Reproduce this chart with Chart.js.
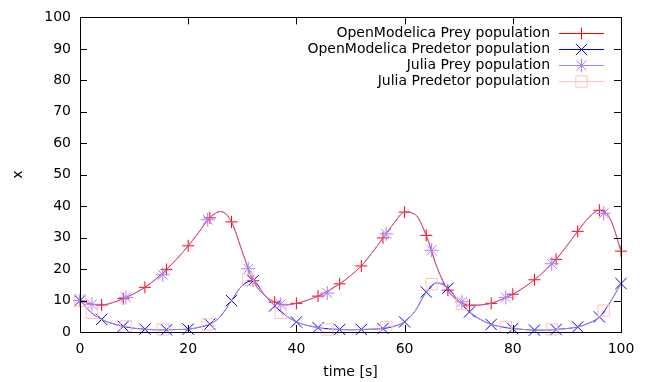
<!DOCTYPE html>
<html>
<head>
<meta charset="utf-8">
<script src="https://cdn.jsdelivr.net/npm/chart.js@4"></script>
<style>
  html, body { margin: 0; padding: 0; background: #fff; }
  #box { width: 649px; height: 382px; }
</style>
</head>
<body>
<div id="box"><canvas id="lvChart" width="649" height="382"></canvas></div>
<script>
// sample times of the OpenModelica result (markers on every other one)
const time = [0, 2, 4, 6, 8, 10, 12, 14, 16, 18, 20, 22, 24, 26, 28, 30, 32, 34, 36, 38, 40,
  42, 44, 46, 48, 50, 52, 54, 56, 58, 60, 62, 64, 66, 68, 70, 72, 74, 76, 78, 80,
  82, 84, 86, 88, 90, 92, 94, 96, 98, 100];
const omPrey = [10, 8.9, 8.6, 9.3, 10.6, 12.2, 14.2, 16.8, 19.9, 23.4, 27.4, 31.8, 36.3, 38.3, 35.0, 25.5, 16.3, 11.8, 9.5, 8.6, 9.1,
  10.1, 11.4, 13.2, 15.3, 17.9, 21.0, 25.2, 29.9, 34.5, 38.1, 37.3, 30.7, 20.5, 13.3, 9.8, 8.5, 8.6, 9.1, 10.4, 12.0,
  14.1, 16.6, 19.6, 23.1, 27.4, 32.0, 36.3, 38.7, 36.0, 25.7];
const omPred = [10, 6.3, 4.0, 2.7, 1.8, 1.2, 0.9, 0.7, 0.7, 0.8, 0.9, 1.5, 2.5, 5.0, 10.0, 14.8, 16.3, 12.0, 8.3, 5.3, 3.2,
  2.1, 1.4, 1.0, 0.8, 0.7, 0.8, 0.9, 1.1, 1.8, 3.2, 6.8, 12.7, 15.6, 13.9, 9.8, 6.4, 4.0, 2.4, 1.6, 1.1,
  0.8, 0.6, 0.6, 0.8, 1.1, 1.6, 2.8, 4.8, 9.5, 15.4];

// Julia solver steps (adaptive)
const juliaTime = [0, 2.2, 8.5, 15.3, 23.6, 31.1, 37.1, 45.7, 56.6, 65.0, 70.6, 78.7, 87.2, 96.8];
const juliaPrey = [10, 8.8, 11.0, 18.2, 35.7, 20.1, 8.8, 12.4, 31.2, 26.0, 9.6, 11.0, 21.7, 37.7];
const juliaPred = [10, 6.1, 1.8, 0.8, 2.4, 16.6, 6.1, 0.8, 1.6, 15.2, 8.9, 1.6, 0.8, 6.8];

const yTicks = [0, 10, 20, 30, 40, 50, 60, 70, 80, 90, 100];
const xTicks = [0, 20, 40, 60, 80, 100];

const FONT = 'DejaVu Sans';

function pts(xs, ys) {
  return xs.map((x, i) => ({ x: x, y: ys[i] }));
}

// julia line follows the dense curve, markers only at the solver steps
function juliaPts(ys) {
  let all = pts(time, ys === juliaPrey ? omPrey : omPred).filter(p => !juliaTime.includes(p.x));
  juliaTime.forEach((t, i) => all.push({ x: t, y: ys[i], m: true }));
  return all.sort((a, b) => a.x - b.x);
}

const series = [
  { label: 'OpenModelica Prey population', color: '#ff0000', line: '#ff0000', style: 'cross', r: 6 },
  { label: 'OpenModelica Predetor population', color: '#0000ff', line: '#0000ff', style: 'crossRot', r: 8 },
  { label: 'Julia Prey population', color: '#a680ff', line: 'rgba(166,128,255,0.65)', style: 'star', r: 7 },
  { label: 'Julia Predetor population', color: '#ffc0c0', line: 'rgba(255,192,192,0.65)', style: 'rect', r: 8 }
];

// gnuplot style frame, inward ticks and key
const framePlugin = {
  id: 'frame',
  afterDatasetsDraw(chart) {
    const c = chart.ctx, a = chart.chartArea;
    const sx = chart.scales.x, sy = chart.scales.y;
    c.save();
    c.strokeStyle = '#000';
    c.lineWidth = 1;
    c.beginPath();
    yTicks.forEach(v => {
      const y = Math.round(sy.getPixelForValue(v)) + 0.5;
      c.moveTo(a.left, y); c.lineTo(a.left + 7, y);
      c.moveTo(a.right, y); c.lineTo(a.right - 7, y);
    });
    xTicks.forEach(v => {
      const x = Math.round(sx.getPixelForValue(v)) + 0.5;
      c.moveTo(x, a.bottom); c.lineTo(x, a.bottom - 7);
      c.moveTo(x, a.top); c.lineTo(x, a.top + 7);
    });
    c.stroke();
    c.strokeRect(Math.round(a.left) + 0.5, Math.round(a.top) + 0.5,
      Math.round(a.right - a.left), Math.round(a.bottom - a.top));

    // key
    c.font = '14px "' + FONT + '"';
    c.textAlign = 'right';
    c.textBaseline = 'middle';
    series.forEach((s, i) => {
      const y = 33 + i * 16;
      c.fillStyle = '#000';
      c.fillText(s.label, 550, y);
      c.lineWidth = 1;
      c.strokeStyle = s.color;
      c.fillStyle = 'rgba(0,0,0,0)';
      c.beginPath();
      c.moveTo(559, y + 0.5); c.lineTo(604, y + 0.5);
      c.stroke();
      Chart.helpers.drawPoint(c, { pointStyle: s.style, radius: s.r, borderWidth: 1 }, 581.5, y + 0.5);
    });
    c.restore();
  }
};

const lineStyle = (s, order) => ({
  label: s.label,
  order: order,
  borderColor: s.line,
  backgroundColor: 'rgba(0,0,0,0)',
  pointBorderColor: s.color,
  pointBackgroundColor: 'rgba(0,0,0,0)',
  pointStyle: s.style,
  borderWidth: 1,
  pointBorderWidth: 1,
  showLine: true,
  cubicInterpolationMode: 'monotone',
  clip: false
});

// higher order is painted first, so julia ends up on top like in gnuplot
const datasets = [
  Object.assign(lineStyle(series[0], 4), { data: pts(time, omPrey), pointRadius: ctx => ctx.dataIndex % 2 === 0 ? series[0].r : 0 }),
  Object.assign(lineStyle(series[1], 3), { data: pts(time, omPred), pointRadius: ctx => ctx.dataIndex % 2 === 0 ? series[1].r : 0 }),
  Object.assign(lineStyle(series[2], 2), { data: juliaPts(juliaPrey), pointRadius: ctx => ctx.raw && ctx.raw.m ? series[2].r : 0 }),
  Object.assign(lineStyle(series[3], 1), { data: juliaPts(juliaPred), pointRadius: ctx => ctx.raw && ctx.raw.m ? series[3].r : 0 })
];

new Chart(document.getElementById('lvChart'), {
  type: 'scatter',
  data: { datasets: datasets },
  options: {
    responsive: false,
    animation: false,
    events: [],
    devicePixelRatio: 1,
    layout: { padding: { top: 17, right: 28, left: 0, bottom: 0 } },
    plugins: { legend: { display: false }, tooltip: { enabled: false } },
    scales: {
      x: {
        type: 'linear', min: 0, max: 100,
        afterBuildTicks: s => { s.ticks = xTicks.map(v => ({ value: v })); },
        afterFit: s => { s.height = 50; },
        grid: { display: false, drawTicks: false },
        border: { display: false },
        ticks: { color: '#000', font: { family: FONT, size: 14 }, padding: 9, maxRotation: 0 },
        title: { display: true, text: 'time [s]', color: '#000', font: { family: FONT, size: 14 }, padding: { top: 0, bottom: 1 } }
      },
      y: {
        type: 'linear', min: 0, max: 100,
        afterBuildTicks: s => { s.ticks = yTicks.map(v => ({ value: v })); },
        afterFit: s => { s.width = 80; },
        grid: { display: false, drawTicks: false },
        border: { display: false },
        ticks: { color: '#000', font: { family: FONT, size: 14 }, padding: 9 },
        title: { display: true, text: 'x', color: '#000', font: { family: FONT, size: 14 }, padding: { top: 10, bottom: 0 } }
      }
    }
  },
  plugins: [framePlugin]
});
</script>
</body>
</html>
